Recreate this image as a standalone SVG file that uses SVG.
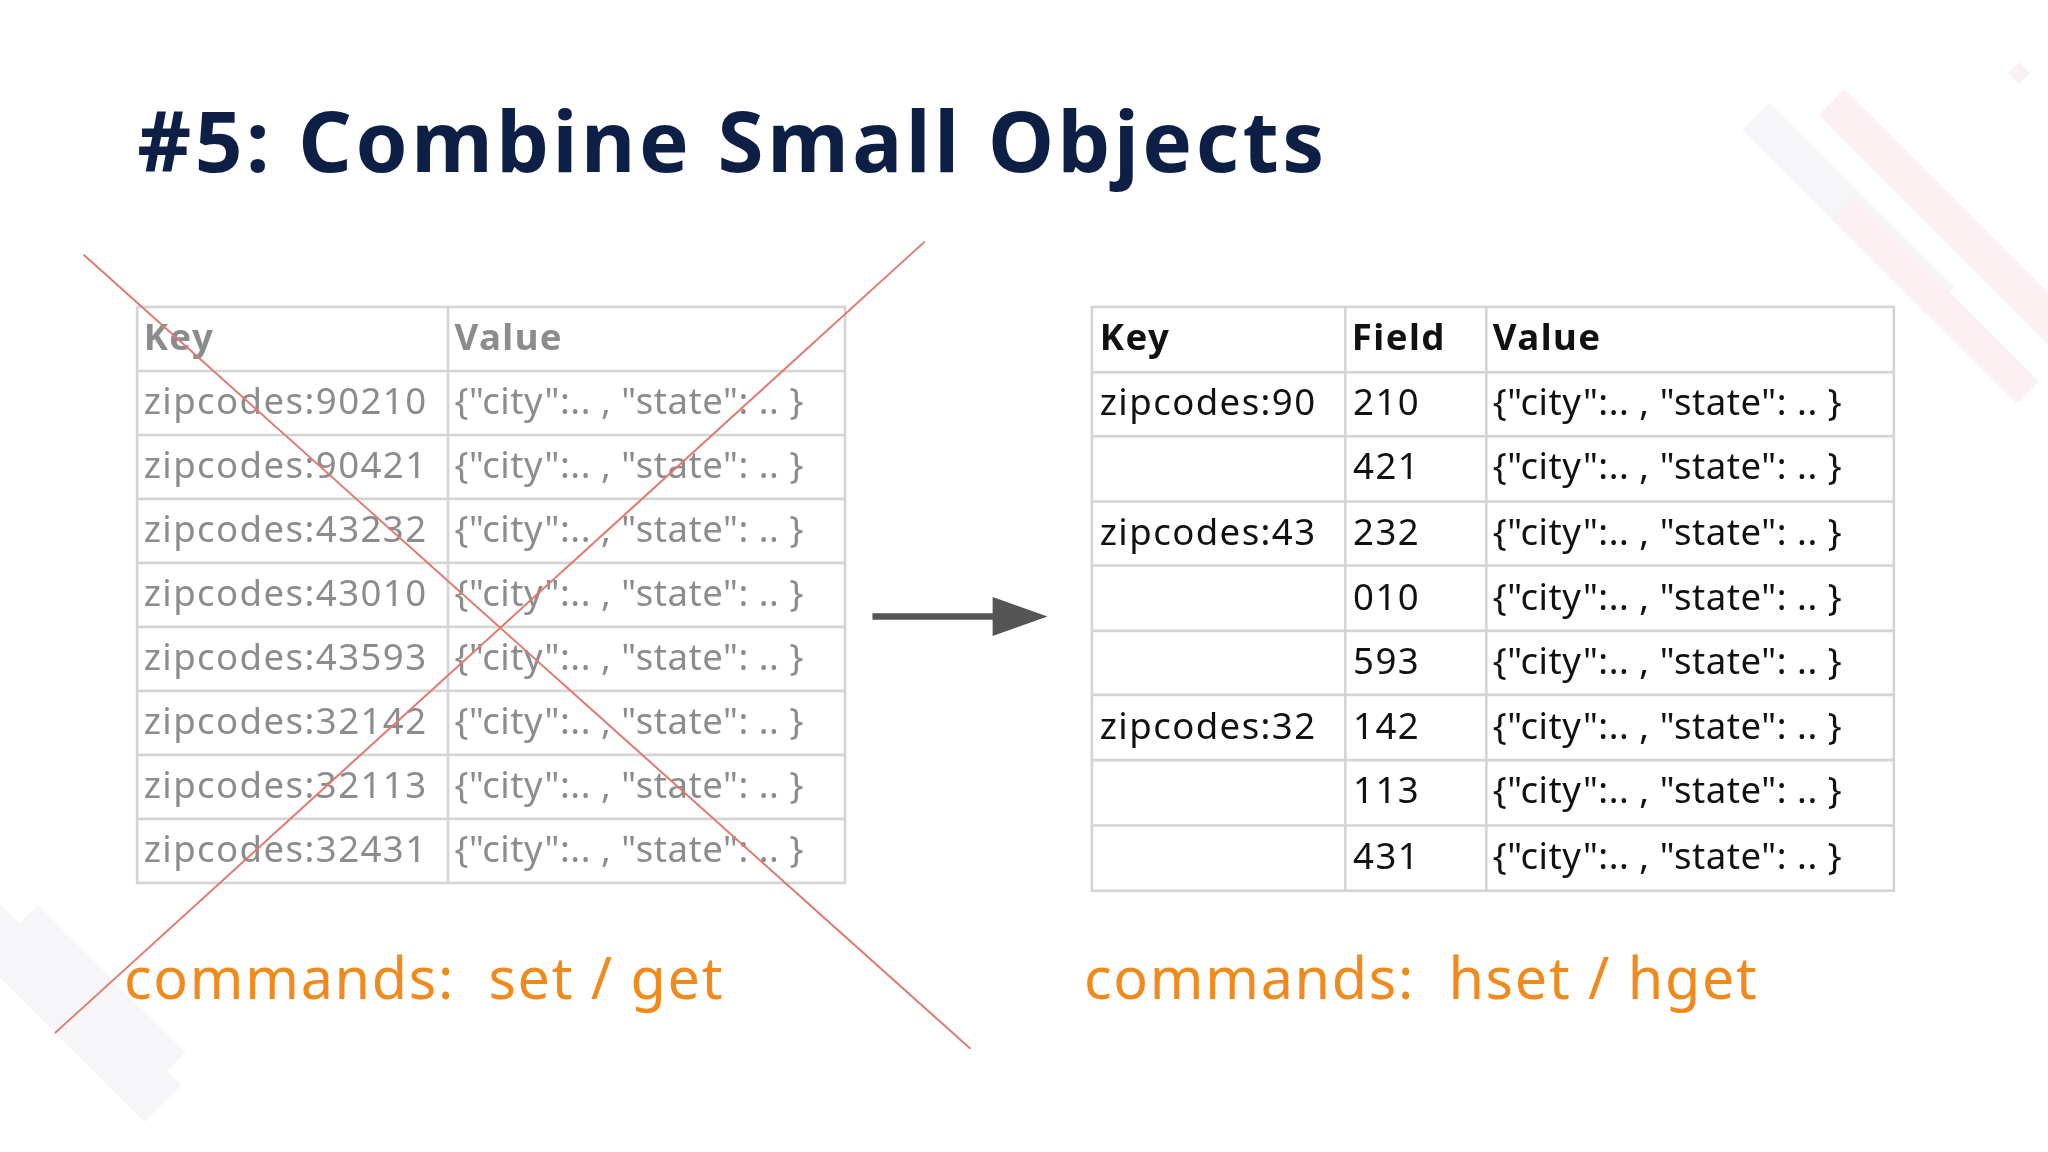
<svg xmlns="http://www.w3.org/2000/svg" width="2048" height="1152" viewBox="0 0 2048 1152">
<style>
.t{font-family:"Noto Sans","Open Sans",sans-serif;font-size:28px;letter-spacing:1.1px}
.v{letter-spacing:0.4px}
.g{fill:#8c8c8c}.k{fill:#111}
.h{font-weight:bold}
.cell{fill:none;stroke:#d4d4d4;stroke-width:2}
.cmd{font-family:"Noto Sans","Open Sans",sans-serif;font-size:44px;fill:#f08a1c;letter-spacing:1.3px;white-space:pre}
</style>
<rect width="2048" height="1152" fill="#fff"/>
<g transform="scale(1.3061)">
<g id="bg" opacity="0.5">
<rect x="1400" y="60" width="30" height="200" fill="#eceaf0" transform="rotate(-45 1415 160)"/>
<rect x="1480" y="40" width="28" height="260" fill="#fbe0e5" transform="rotate(-45 1494 170)"/>
<rect x="1470" y="130" width="24" height="200" fill="#fbe0e5" transform="rotate(-45 1482 230)"/>
<rect x="1540" y="50" width="12" height="12" fill="#fbe0e5" transform="rotate(45 1546 56)"/>
<rect x="20" y="640" width="40" height="240" fill="#eceaf0" transform="rotate(-45 40 760)"/>
<rect x="60" y="680" width="30" height="160" fill="#eceaf0" transform="rotate(-45 75 760)"/>
</g>
<g id="title"><text x="105" y="132" font-family="Noto Sans,sans-serif" font-weight="bold" font-size="64" letter-spacing="2.7" fill="#0d1f45">#5: Combine Small Objects</text></g>
<g id="left-table">
<rect class="cell" x="105" y="235" width="542" height="441"/>
<line class="cell" x1="343" y1="235" x2="343" y2="676"/>
<g class="cell">
<line x1="105" y1="284" x2="647" y2="284"/><line x1="105" y1="333" x2="647" y2="333"/><line x1="105" y1="382" x2="647" y2="382"/><line x1="105" y1="431" x2="647" y2="431"/><line x1="105" y1="480" x2="647" y2="480"/><line x1="105" y1="529" x2="647" y2="529"/><line x1="105" y1="578" x2="647" y2="578"/><line x1="105" y1="627" x2="647" y2="627"/>
</g>
<text class="t g h" x="110" y="268">Key</text><text class="t g h" x="348" y="268">Value</text>
<g class="t g">
<text x="110" y="317">zipcodes:90210</text><text class="v" x="348" y="317">{"city":.. , "state": .. }</text>
<text x="110" y="366">zipcodes:90421</text><text class="v" x="348" y="366">{"city":.. , "state": .. }</text>
<text x="110" y="415">zipcodes:43232</text><text class="v" x="348" y="415">{"city":.. , "state": .. }</text>
<text x="110" y="464">zipcodes:43010</text><text class="v" x="348" y="464">{"city":.. , "state": .. }</text>
<text x="110" y="513">zipcodes:43593</text><text class="v" x="348" y="513">{"city":.. , "state": .. }</text>
<text x="110" y="562">zipcodes:32142</text><text class="v" x="348" y="562">{"city":.. , "state": .. }</text>
<text x="110" y="611">zipcodes:32113</text><text class="v" x="348" y="611">{"city":.. , "state": .. }</text>
<text x="110" y="660">zipcodes:32431</text><text class="v" x="348" y="660">{"city":.. , "state": .. }</text>
</g>
</g>
<g id="right-table">
<rect class="cell" x="836" y="235" width="614" height="447"/>
<line class="cell" x1="1030" y1="235" x2="1030" y2="682"/><line class="cell" x1="1138" y1="235" x2="1138" y2="682"/>
<g class="cell">
<line x1="836" y1="285" x2="1450" y2="285"/><line x1="836" y1="334" x2="1450" y2="334"/><line x1="836" y1="384" x2="1450" y2="384"/><line x1="836" y1="433" x2="1450" y2="433"/><line x1="836" y1="483" x2="1450" y2="483"/><line x1="836" y1="532" x2="1450" y2="532"/><line x1="836" y1="582" x2="1450" y2="582"/><line x1="836" y1="632" x2="1450" y2="632"/>
</g>
<text class="t k h" x="842" y="268">Key</text><text class="t k h" x="1035" y="268">Field</text><text class="t k h" x="1143" y="268">Value</text>
<g class="t k">
<text x="842" y="318">zipcodes:90</text><text x="1036" y="318">210</text><text class="v" x="1143" y="318">{"city":.. , "state": .. }</text>
<text x="1036" y="367">421</text><text class="v" x="1143" y="367">{"city":.. , "state": .. }</text>
<text x="842" y="417">zipcodes:43</text><text x="1036" y="417">232</text><text class="v" x="1143" y="417">{"city":.. , "state": .. }</text>
<text x="1036" y="467">010</text><text class="v" x="1143" y="467">{"city":.. , "state": .. }</text>
<text x="1036" y="516">593</text><text class="v" x="1143" y="516">{"city":.. , "state": .. }</text>
<text x="842" y="566">zipcodes:32</text><text x="1036" y="566">142</text><text class="v" x="1143" y="566">{"city":.. , "state": .. }</text>
<text x="1036" y="615">113</text><text class="v" x="1143" y="615">{"city":.. , "state": .. }</text>
<text x="1036" y="665">431</text><text class="v" x="1143" y="665">{"city":.. , "state": .. }</text>
</g>
</g>
<g id="connectors">
<line x1="64" y1="195" x2="743" y2="803" stroke="#e07a6c" stroke-width="1.5"/>
<line x1="708" y1="185" x2="42" y2="791" stroke="#e07a6c" stroke-width="1.5"/>
<line x1="668" y1="472" x2="765" y2="472" stroke="#555" stroke-width="5"/>
<polygon points="760,457 802,472 760,487" fill="#555"/>
</g>
<g id="cmds">
<text class="cmd" x="95" y="765">commands:  set / get</text>
<text class="cmd" x="830" y="765">commands:  hset / hget</text>
</g>
</g>
</svg>
